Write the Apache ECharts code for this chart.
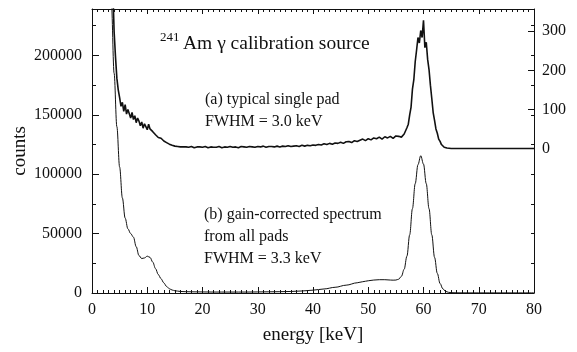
<!DOCTYPE html>
<html>
<head>
<meta charset="utf-8">
<script src="https://cdn.jsdelivr.net/npm/echarts@6/dist/echarts.min.js"></script>
<style>
  html, body { margin: 0; padding: 0; background: #fff; }
  #chart { width: 577px; height: 352px; }
</style>
</head>
<body>
<div id="chart"></div>
<script>
const FONT = 'Liberation Serif';

// (a) typical single pad, right axis counts
const energyA = [
  3.5, 3.75, 4.0, 4.25, 4.5, 4.75, 5.0, 5.25, 5.5, 5.75, 6.0, 6.25, 6.5, 6.75, 7.0, 7.25, 7.5, 7.75,
  8.0, 8.25, 8.5, 8.75, 9.0, 9.25, 9.5, 9.75, 10.0, 10.25, 10.5, 10.75, 11.0, 11.25, 11.5, 11.75,
  12.0, 12.25, 12.5, 12.75, 13.0, 13.25, 13.5, 13.75, 14.0, 14.25, 14.5, 14.75, 15.0, 15.25, 15.5,
  15.75, 16.0, 16.25, 16.5, 16.75, 17.0, 17.5, 18.0, 18.5, 19.0, 19.5, 20.0, 20.5, 21.0, 21.5, 22.0,
  22.5, 23.0, 23.5, 24.0, 24.5, 25.0, 25.5, 26.0, 26.5, 27.0, 27.5, 28.0, 28.5, 29.0, 29.5, 30.0,
  30.5, 31.0, 31.5, 32.0, 32.5, 33.0, 33.5, 34.0, 34.5, 35.0, 35.5, 36.0, 36.5, 37.0, 37.5, 38.0,
  38.5, 39.0, 39.5, 40.0, 40.5, 41.0, 41.5, 42.0, 42.5, 43.0, 43.5, 44.0, 44.5, 45.0, 45.5, 46.0,
  46.5, 47.0, 47.5, 48.0, 48.5, 49.0, 49.5, 50.0, 50.5, 51.0, 51.5, 52.0, 52.5, 53.0, 53.5, 54.0,
  54.5, 55.0, 55.25, 55.5, 55.75, 56.0, 56.25, 56.5, 56.75, 57.0, 57.25, 57.5, 57.75, 58.0, 58.25,
  58.5, 58.75, 59.0, 59.25, 59.5, 59.75, 60.0, 60.25, 60.5, 60.75, 61.0, 61.25, 61.5, 61.75, 62.0,
  62.25, 62.5, 62.75, 63.0, 63.25, 63.5, 63.75, 64.0, 64.25, 64.5, 65, 66, 68, 70, 72, 74, 76, 78, 80
];
const countsA = [
  600, 420, 300, 235, 180, 150,
  130, 108, 118, 95, 112, 88, 100, 96, 78, 92, 74, 84, 66, 78, 70, 58, 68, 52, 63, 56, 48, 62, 50, 55,
  43, 47, 35, 40, 28, 32, 26, 22, 19, 14, 15, 10, 11, 7, 8, 5, 6, 4, 5, 3, 4, 2, 4, 3,
  4, 3, 5, 2, 4, 4, 3, 5, 2, 4, 3, 3, 5, 2, 4, 3, 5, 3, 4, 2, 5, 4, 3, 5, 4, 3,
  5, 4, 6, 3, 5, 5, 4, 6, 4, 6, 5, 7, 5, 6, 7, 5, 8, 6, 8, 7, 9,
  8, 10, 9, 12, 10, 13, 11, 14, 13, 16, 13, 17, 18, 15, 20, 18, 21, 24, 20, 25,
  22, 27, 25, 29, 24, 30, 27, 31, 26, 32, 27, 31, 26,
  29, 28, 37, 40, 53, 62, 86, 106, 152, 176, 222, 252, 284, 270, 302, 284, 328, 258, 272, 228,
  202, 162, 128, 92, 72, 50, 39, 24, 18, 10, 8, 3, 3, 1, 0,
  0, 0, 0, 0, 0, 0, 0, 0, 0
];

// (b) gain-corrected spectrum from all pads, left axis counts
const energyB = [
  3.0, 3.5, 4.0, 4.5, 5.0, 5.5, 6.0, 6.5, 7.0, 7.5, 8.0, 8.5, 9.0, 9.5, 10.0, 10.5, 11.0, 11.5,
  12.0, 12.5, 13.0, 13.5, 14.0, 14.5, 15.0, 16, 17, 18, 20, 22, 25, 28, 30, 32, 34, 36, 38, 40,
  42, 44, 46, 48, 49, 50, 51, 52, 53, 54, 54.5, 55, 55.5, 56, 56.5, 57, 57.5, 58, 58.5, 59, 59.5,
  60, 60.5, 61, 61.5, 62, 62.5, 63, 63.5, 64, 64.5, 65, 66, 68, 72, 76, 80
];
const countsB = [
  330000, 245000, 185000, 140000, 106000, 80000, 63000, 54000, 50000, 47000, 39000, 31500, 29000, 29500, 31000, 30000, 26000, 20500,
  15500, 12000, 8500, 5500, 3600, 2500, 1900, 1300, 1100, 1000, 900, 800, 800, 800, 900, 1000, 1100, 1300, 1700, 2400,
  3400, 4800, 6600, 8600, 9500, 10300, 10900, 11200, 11200, 10900, 10800, 10900, 11600, 14000, 20000, 31000, 49000, 71000, 92000, 108000, 115500,
  108500, 92000, 71000, 49000, 30000, 16500, 8000, 3500, 1400, 600, 300, 150, 100, 100, 100, 100
];

const xTicks = [0, 10, 20, 30, 40, 50, 60, 70, 80];
const rightTicks = [0, 100, 200, 300];

const seriesA = energyA.map((e, i) => [e, countsA[i]]);
const seriesB = energyB.map((e, i) => [e, countsB[i]]);

const chart = echarts.init(document.getElementById('chart'), null, { renderer: 'canvas' });

const ink = '#111';
const plain = v => String(v);
const labelStyle = { fontFamily: FONT, fontSize: 16, color: ink, formatter: plain };

const option = {
  animation: false,
  backgroundColor: '#fff',
  textStyle: { fontFamily: FONT },
  grid: { left: 92, right: 43, top: 9, bottom: 59, containLabel: false, outerBoundsMode: 'none' },
  xAxis: [
    {
      type: 'value', position: 'bottom', min: 0, max: 80, interval: 10,
      axisLine: { onZero: false, lineStyle: { color: ink, width: 1 } },
      axisTick: { inside: true, length: 6, lineStyle: { color: ink } },
      minorTick: { show: true, splitNumber: 10, length: 3, lineStyle: { color: ink } },
      axisLabel: Object.assign({ margin: 9, customValues: xTicks }, labelStyle),
      splitLine: { show: false },
      name: 'energy [keV]', nameLocation: 'middle', nameGap: 33, nameMoveOverlap: false,
      nameTextStyle: { fontFamily: FONT, fontSize: 19, color: ink }
    },
    {
      type: 'value', position: 'top', min: 0, max: 80, interval: 10,
      axisLine: { onZero: false, lineStyle: { color: ink, width: 1 } },
      axisTick: { inside: true, length: 5, lineStyle: { color: ink } },
      minorTick: { show: true, splitNumber: 10, length: 3, lineStyle: { color: ink } },
      axisLabel: { show: false },
      splitLine: { show: false }
    }
  ],
  yAxis: [
    {
      type: 'value', position: 'left', min: 0, max: 239000, interval: 50000,
      axisLine: { show: true, onZero: false, lineStyle: { color: ink, width: 1 } },
      axisTick: { inside: true, length: 7, lineStyle: { color: ink } },
      axisLabel: Object.assign({ margin: 10, showMaxLabel: false }, labelStyle),
      splitLine: { show: false },
      name: 'counts', nameLocation: 'middle', nameGap: 62, nameMoveOverlap: false,
      nameTextStyle: { fontFamily: FONT, fontSize: 19, color: ink }
    },
    {
      type: 'value', position: 'right', min: -370, max: 357,
      axisLine: { show: true, onZero: false, lineStyle: { color: ink, width: 1 } },
      axisTick: { show: true, inside: true, length: 6, customValues: rightTicks, lineStyle: { color: ink } },
      axisLabel: Object.assign({ margin: 8, customValues: rightTicks }, labelStyle),
      splitLine: { show: false }
    },
    {
      // small ticks of the left scale, on the left edge
      type: 'value', position: 'left', min: 0, max: 239000, interval: 25000,
      axisLine: { show: false, onZero: false },
      axisTick: { inside: true, length: 4, lineStyle: { color: ink } },
      axisLabel: { show: false },
      splitLine: { show: false }
    },
    {
      // mirrored small ticks on the right edge
      type: 'value', position: 'right', min: 0, max: 239000, interval: 25000,
      axisLine: { show: false, onZero: false },
      axisTick: { inside: true, length: 3, lineStyle: { color: ink } },
      axisLabel: { show: false },
      splitLine: { show: false }
    }
  ],
  series: [
    {
      name: '(b) gain-corrected spectrum',
      type: 'line', xAxisIndex: 0, yAxisIndex: 0,
      data: seriesB, smooth: 0.35, smoothMonotone: 'x',
      symbol: 'none', clip: true,
      lineStyle: { color: ink, width: 1 }
    },
    {
      name: '(a) typical single pad',
      type: 'line', xAxisIndex: 0, yAxisIndex: 1,
      data: seriesA, symbol: 'none', clip: true,
      lineStyle: { color: ink, width: 1.6 }
    }
  ],
  graphic: [
    { type: 'text', left: 160, top: 31, style: { text: '241', fontFamily: FONT, fontSize: 13, fill: ink } },
    { type: 'text', left: 183, top: 34, style: { text: 'Am γ calibration source', fontFamily: FONT, fontSize: 19.5, fill: ink } },
    { type: 'text', left: 205, top: 92, style: { text: '(a) typical single pad', fontFamily: FONT, fontSize: 16, fill: ink } },
    { type: 'text', left: 205, top: 114, style: { text: 'FWHM = 3.0 keV', fontFamily: FONT, fontSize: 16, fill: ink } },
    { type: 'text', left: 204, top: 207, style: { text: '(b) gain-corrected spectrum', fontFamily: FONT, fontSize: 16, fill: ink } },
    { type: 'text', left: 204, top: 229, style: { text: 'from all pads', fontFamily: FONT, fontSize: 16, fill: ink } },
    { type: 'text', left: 204, top: 251, style: { text: 'FWHM = 3.3 keV', fontFamily: FONT, fontSize: 16, fill: ink } }
  ]
};

chart.setOption(option);
</script>
</body>
</html>
